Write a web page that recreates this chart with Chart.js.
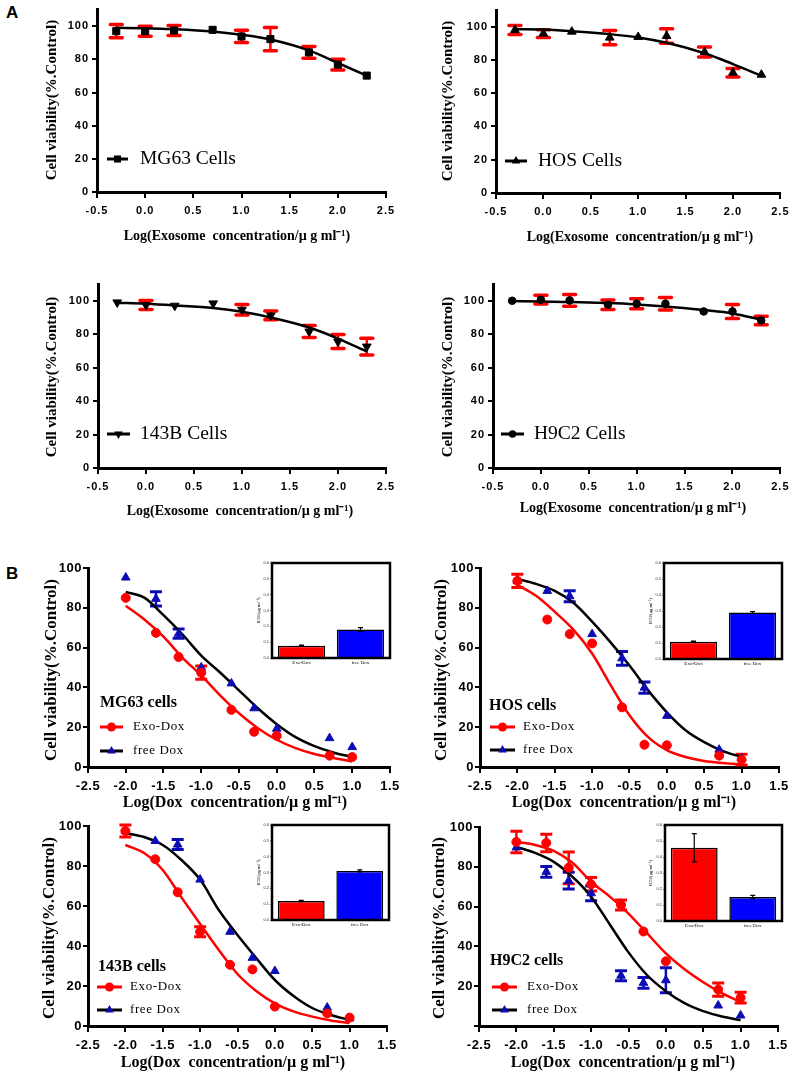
<!DOCTYPE html>
<html><head><meta charset="utf-8">
<script src="https://cdn.jsdelivr.net/npm/chart.js@4.4.1/dist/chart.umd.min.js"></script>
<style>
body{margin:0;background:#fff;width:794px;height:1075px;position:relative;overflow:hidden;}
canvas{position:absolute;}
.lbl{position:absolute;font:bold 17px "Liberation Sans",Arial,sans-serif;line-height:20px;}
</style></head><body>
<div class="lbl" style="left:6px;top:3px">A</div>
<div class="lbl" style="left:6px;top:564px">B</div>
<script>
// ---------------- DATA ----------------
// Panel A: exosome alone
const exoConc = [-0.3, 0, 0.3, 0.7, 1.0, 1.3, 1.7, 2.0, 2.3];
const mg63Exo    = [97, 97, 97.4, 97.8, 93.8, 92.2, 84.2, 76.8, 70.2];
const mg63ExoErr = [4, 3, 3, 0, 3.7, 7, 3.5, 3.2, 0];
const mg63ExoFit = [99, 98.8, 98.2, 96.8, 94.8, 92, 85.4, 77.8, 70.2];
const hosExo     = [98, 95.8, 97, 93.4, 93.8, 94.4, 84.7, 72.3, 71.1];
const hosExoErr  = [2.7, 2.4, 0, 4.3, 0, 4.4, 3, 2.6, 0];
const hosExoFit  = [98.5, 98.3, 97.3, 95.5, 93.5, 90.3, 84, 77.5, 70.5];
const b143Exo    = [99, 97.4, 97, 98.4, 94.6, 91.2, 81.6, 75.6, 72.6];
const b143ExoErr = [0, 2.7, 0, 0, 3.1, 2.6, 3.6, 4.2, 5];
const b143ExoFit = [98.8, 98.2, 97.2, 95.6, 93.4, 90, 84, 77.4, 69.6];
const h9c2Exo    = [100, 100.6, 100.2, 97.6, 98.2, 98.2, 93.6, 93.6, 88.2];
const h9c2ExoErr = [0, 2.6, 3.5, 2.8, 3, 3.7, 0, 4.2, 2.5];
const h9c2ExoFit = [99.8, 99.6, 99.2, 98.6, 97.8, 96.6, 94.4, 92.4, 88.6];

// Panel B: Exo-Dox vs free Dox
const doxConc = [-2, -1.6, -1.3, -1.0, -0.6, -0.3, 0, 0.7, 1.0];
const fitConc = [-2, -1.75, -1.5, -1.25, -1, -0.75, -0.5, -0.25, 0, 0.25, 0.5, 0.75, 1];
const mg63ExoDox     = [85, 67.4, 55.3, 47.4, 28.7, 17.7, 15.7, 5.7, 5];
const mg63ExoDoxErr  = [0, 0, 0, 3.3, 0, 0, 0, 0, 0];
const mg63FreeDox    = [95.2, 84.5, 67, 50, 42, 29.5, 19.2, 14.5, 10];
const mg63FreeDoxErr = [0, 3.6, 2.3, 0, 0, 0, 0, 0, 0];
const mg63ExoDoxFit  = [81, 74, 65.5, 55, 46, 36, 27, 19.5, 13.7, 9.5, 6.5, 4.5, 2.8];
const mg63FreeDoxFit = [88, 85, 76.3, 66.7, 56, 47.5, 38.5, 29.5, 21.5, 15, 10.5, 7.3, 5];

const hosExoDox     = [93.5, 74.1, 66.8, 62.1, 30, 11.2, 10.9, 5.7, 3.7];
const hosExoDoxErr  = [3.3, 0, 0, 0, 0, 0, 0, 0, 2.7];
const hosFreeDox    = [93.5, 88.5, 85.8, 66.8, 54.6, 39.9, 25.7, 8.7, 4.5];
const hosFreeDoxErr = [0, 0, 2.8, 0, 3.5, 2.8, 0, 0, 0];
const hosExoDoxFit  = [91.5, 86, 78, 69, 57, 41, 26, 15, 8.5, 5, 3, 2, 1.3];
const hosFreeDoxFit = [94.5, 92, 88.5, 82.5, 73, 62.5, 51, 38.5, 27.5, 18.5, 12.5, 8, 5];

const b143ExoDox     = [97.5, 83.4, 66.9, 47.1, 30.6, 28.3, 9.7, 6.3, 4.2];
const b143ExoDoxErr  = [3, 0, 0, 2.5, 0, 0, 0, 0, 0];
const b143FreeDox    = [97.5, 92.5, 90.7, 73.2, 47.1, 34.1, 27.5, 9.2, 3.8];
const b143FreeDoxErr = [0, 0, 2.5, 0, 0, 0, 0, 0, 0];
const b143ExoDoxFit  = [90.5, 86.5, 78, 64.3, 51, 38, 26, 17.5, 11.3, 7.3, 4.7, 2.8, 1.5];
const b143FreeDoxFit = [96.5, 94.5, 90.5, 83, 73.2, 58, 45.5, 34, 23, 15, 9, 5.5, 3];

const h9c2ExoDox     = [92.5, 92, 79.5, 71.2, 60.8, 47.5, 32.5, 18.3, 14.2];
const h9c2ExoDoxErr  = [5.4, 4.4, 8, 3.4, 2.5, 0, 0, 3.3, 2.7];
const h9c2FreeDox    = [89.7, 77.5, 73, 66.7, 25.3, 21.7, 23, 10.3, 5.3];
const h9c2FreeDoxErr = [0, 2.7, 4.2, 3.7, 2.5, 2.7, 6.3, 0, 0];
const h9c2ExoDoxFit  = [92.5, 91, 88, 82, 72.5, 65, 56.5, 46.5, 36.5, 28.5, 22, 16.5, 12];
const h9c2FreeDoxFit = [90, 87, 82.5, 75, 65, 51, 37, 25.5, 17.5, 11.5, 7.5, 4.8, 3];

// IC50 insets
const ic50Cats = ['Exo-Dox', 'free Dox'];
const mg63IC50 = [0.077, 0.18];  const mg63IC50Err = [0.004, 0.012];
const hosIC50  = [0.108, 0.29];  const hosIC50Err  = [0.004, 0.006];
const b143IC50 = [0.12, 0.31];   const b143IC50Err = [0.004, 0.006];
const h9c2IC50 = [0.458, 0.15];  const h9c2IC50Err = [0.088, 0.01];

// ---------------- STYLE ----------------
const SANS = '"Liberation Sans", Arial, sans-serif';
const SERIF = '"Liberation Serif", "Times New Roman", serif';
const RED = '#ff0000', MBLUE = '#0c0cb4', BBLUE = '#0000ff';
const pts = (xs, ys) => xs.map((x, i) => ({x: x, y: ys[i]}));

function drawErr(chart, top) {
  const ctx = chart.ctx, xs = chart.scales.x, ys = chart.scales.y;
  chart.data.datasets.forEach(ds => {
    if (!ds.err || (!!ds.errOnTop) !== top) return;
    ctx.save();
    ctx.strokeStyle = ds.errColor; ctx.lineCap = ds.errCap || 'butt';
    ds.data.forEach((p, i) => {
      const e = ds.err[i]; if (!e) return;
      const xv = typeof p === 'number' ? i : p.x, yv = typeof p === 'number' ? p : p.y;
      const px = xs.getPixelForValue(xv), y1 = ys.getPixelForValue(yv + e), y2 = ys.getPixelForValue(yv - e);
      ctx.lineWidth = ds.errLW; ctx.beginPath(); ctx.moveTo(px, y1); ctx.lineTo(px, y2); ctx.stroke();
      ctx.lineWidth = ds.capLW; ctx.beginPath();
      ctx.moveTo(px - ds.capHalf, y1); ctx.lineTo(px + ds.capHalf, y1);
      ctx.moveTo(px - ds.capHalf, y2); ctx.lineTo(px + ds.capHalf, y2); ctx.stroke();
    });
    ctx.restore();
  });
}
const errPlugin = {
  id: 'errbars',
  beforeDatasetsDraw(chart) { drawErr(chart, false); },
  afterDatasetsDraw(chart) { drawErr(chart, true); }
};
function spacingPlugin(v) {
  return {id: 'spacing',
    beforeDraw(chart) { chart.ctx.letterSpacing = v; },
    beforeDatasetsDraw(chart) { chart.ctx.letterSpacing = '0px'; }};
}
function drawMarker(ctx, style, x, y, r, color, inv) {
  ctx.save(); ctx.fillStyle = color; ctx.beginPath();
  if (style === 'circle') ctx.arc(x, y, r, 0, Math.PI * 2);
  else if (style === 'rect') { const s = r * Math.SQRT1_2; ctx.rect(x - s, y - s, 2 * s, 2 * s); }
  else {
    const a0 = inv ? Math.PI : 0;
    for (let k = 0; k < 3; k++) {
      const a = a0 + k * 2 * Math.PI / 3, px = x + Math.sin(a) * r, py = y - Math.cos(a) * r;
      if (k) ctx.lineTo(px, py); else ctx.moveTo(px, py);
    }
    ctx.closePath();
  }
  ctx.fill(); ctx.restore();
}
function decorPlugin(cfg, ox, oy) {
  return {id: 'decor', afterDraw(chart) {
    const ctx = chart.ctx;
    ctx.save(); ctx.letterSpacing = '0px'; ctx.fillStyle = '#000'; ctx.textBaseline = 'middle';
    if (cfg.frame) {
      const a = chart.chartArea; ctx.strokeStyle = '#000'; ctx.lineWidth = cfg.frame;
      ctx.strokeRect(a.left, a.top, a.right - a.left, a.bottom - a.top);
    }
    if (cfg.yTitle) {
      const t = cfg.yTitle; ctx.save(); ctx.translate(t.x - ox, t.y - oy); ctx.rotate(-Math.PI / 2);
      ctx.font = t.font; ctx.textAlign = 'center'; ctx.fillText(t.text, 0, 0); ctx.restore();
    }
    if (cfg.xTitle) {
      const t = cfg.xTitle; ctx.font = t.font; ctx.textAlign = 'center'; ctx.fillText(t.text, t.x - ox, t.y - oy);
    }
    if (cfg.legendTitle) {
      const t = cfg.legendTitle; ctx.font = t.font; ctx.textAlign = 'left'; ctx.fillText(t.text, t.x - ox, t.y - oy);
    }
    (cfg.legend || []).forEach(it => {
      ctx.strokeStyle = it.lineColor; ctx.lineWidth = it.lw;
      ctx.beginPath(); ctx.moveTo(it.x1 - ox, it.y - oy); ctx.lineTo(it.x2 - ox, it.y - oy); ctx.stroke();
      drawMarker(ctx, it.marker, (it.x1 + it.x2) / 2 - ox, it.y - oy, it.r, it.mColor, it.inv);
      ctx.fillStyle = '#000'; ctx.font = it.font; ctx.textAlign = 'left';
      if (it.ls) ctx.letterSpacing = it.ls;
      ctx.fillText(it.text, it.tx - ox, it.y - oy);
      ctx.letterSpacing = '0px';
    });
    ctx.restore();
  }};
}
function place(cx, cy, cw, ch) {
  const c = document.createElement('canvas');
  c.width = cw; c.height = ch;
  c.style.left = cx + 'px'; c.style.top = cy + 'px';
  c.style.width = cw + 'px'; c.style.height = ch + 'px';
  document.body.appendChild(c); return c;
}

function mainChart(p) {
  const c = place(p.cx, p.cy, p.cw, p.ch);
  const B = p.big;
  const tickFont = {family: SANS, weight: 'bold', size: B ? 13 : 11};
  new Chart(c, {
    type: 'line',
    data: {datasets: p.datasets},
    options: {
      responsive: false, animation: false, devicePixelRatio: 1,
      layout: {padding: {top: p.T - p.cy, right: p.cx + p.cw - p.R, left: 0, bottom: 0}},
      plugins: {legend: {display: false}, tooltip: {enabled: false}},
      scales: {
        x: {
          type: 'linear', min: p.xmin, max: p.xmax,
          afterFit: s => { s.height = p.cy + p.ch - p.B; },
          ticks: {stepSize: 0.5, autoSkip: false, maxRotation: 0, color: '#000', font: tickFont, padding: 6,
                  callback: v => Number(v).toFixed(1)},
          grid: {display: true, drawOnChartArea: false, drawTicks: true, tickLength: 6, color: '#000', lineWidth: 2},
          border: {display: true, color: '#000', width: 3}
        },
        y: {
          type: 'linear', min: 0, max: p.ymax,
          afterFit: s => { s.width = p.L - p.cx; },
          afterBuildTicks: s => { s.ticks = s.ticks.filter(t => Math.abs(t.value % 20) < 1e-6); },
          ticks: {stepSize: 20, color: '#000', font: tickFont, padding: B ? 1 : 3,
                  callback: v => (p.hideZero && v === 0) ? '' : v},
          grid: {display: true, drawOnChartArea: false, drawTicks: true, tickLength: 5, color: '#000', lineWidth: 2},
          border: {display: true, color: '#000', width: 3}
        }
      }
    },
    plugins: [errPlugin, spacingPlugin(B ? '0.5px' : '1px'), decorPlugin(p.decor, p.cx, p.cy)]
  });
}

function insetChart(p) {
  const c = place(p.cx, p.cy, p.cw, p.ch);
  new Chart(c, {
    type: 'bar',
    data: {labels: ic50Cats, datasets: [{
      data: p.values, err: p.errs, errOnTop: true, errColor: '#000', errLW: 1.2, capLW: 1.2, capHalf: 2.5,
      backgroundColor: [RED, BBLUE], borderColor: '#000', borderWidth: 1.5,
      categoryPercentage: 1, barPercentage: 0.8
    }]},
    options: {
      responsive: false, animation: false, devicePixelRatio: 1,
      layout: {padding: {top: p.T - p.cy, right: p.cx + p.cw - p.R, left: 0, bottom: 0}},
      plugins: {legend: {display: false}, tooltip: {enabled: false}},
      scales: {
        x: {afterFit: s => { s.height = p.cy + p.ch - p.B; },
            ticks: {color: '#000', font: {family: SERIF, size: 5}, padding: 2},
            grid: {display: false, drawTicks: false}, border: {display: false}},
        y: {min: 0, max: 0.6, afterFit: s => { s.width = p.L - p.cx; },
            ticks: {stepSize: 0.1, color: '#333', font: {family: SANS, size: 4}, padding: 1,
                    callback: v => Number(v).toFixed(1)},
            grid: {display: true, drawOnChartArea: false, tickLength: 2, color: '#333', lineWidth: 0.6},
            border: {display: false}}
      }
    },
    plugins: [errPlugin, decorPlugin({frame: 2.5,
      yTitle: {text: 'IC50(\u00b5g ml\u207b\u00b9)', x: p.tx, y: (p.T + p.B) / 2, font: '4.5px ' + SERIF}}, p.cx, p.cy)]
  });
}

// ---------------- PANEL A ----------------
const yTitleText = 'Cell viability(%.Control)';
const exoTitle = 'Log(Exosome  concentration/\u00b5 g ml\u207b\u00b9)';
const doxTitle = 'Log(Dox  concentration/\u00b5 g ml\u207b\u00b9)';
const fA = 'bold 15px ' + SERIF, fAx = 'bold 14px ' + SERIF, fLeg = '19.5px ' + SERIF;

function aSets(vals, errs, fit, style, r, inv) {
  return [
    {data: pts(exoConc, vals), err: errs, errColor: RED, errLW: 2.5, capLW: 3.5, capHalf: 6, errCap: 'round',
     showLine: false, pointStyle: style, pointRadius: r, pointRotation: inv ? 180 : 0,
     pointBackgroundColor: '#000', pointBorderColor: '#000', pointBorderWidth: 1, clip: false},
    {data: pts(exoConc, fit), borderColor: '#000', borderWidth: 2.5, pointRadius: 0,
     cubicInterpolationMode: 'monotone', fill: false, clip: false}
  ];
}
function aLegend(text, x1, x2, y, tx, style, r, inv) {
  return [{x1: x1, x2: x2, y: y, tx: tx, text: text, lineColor: '#000', lw: 3, marker: style, r: r, inv: inv,
           mColor: '#000', font: fLeg}];
}

mainChart({cx: 0, cy: 0, cw: 400, ch: 250, L: 97, R: 386, T: 9, B: 192, xmin: -0.5, xmax: 2.5, ymax: 110,
  datasets: aSets(mg63Exo, mg63ExoErr, mg63ExoFit, 'rect', 5),
  decor: {yTitle: {text: yTitleText, x: 52, y: 100, font: fA}, xTitle: {text: exoTitle, x: 237, y: 236, font: fAx},
          legend: aLegend('MG63 Cells', 107, 128, 159, 140, 'rect', 5)}});
mainChart({cx: 400, cy: 0, cw: 394, ch: 250, L: 496, R: 783, T: 10, B: 193, xmin: -0.5, xmax: 2.5, ymax: 110,
  datasets: aSets(hosExo, hosExoErr, hosExoFit, 'triangle', 5),
  decor: {yTitle: {text: yTitleText, x: 448, y: 101, font: fA}, xTitle: {text: exoTitle, x: 640, y: 237, font: fAx},
          legend: aLegend('HOS Cells', 505, 527, 161, 538, 'triangle', 5)}});
mainChart({cx: 0, cy: 255, cw: 400, ch: 270, L: 98, R: 386, T: 284, B: 468, xmin: -0.5, xmax: 2.5, ymax: 110,
  datasets: aSets(b143Exo, b143ExoErr, b143ExoFit, 'triangle', 5, true),
  decor: {yTitle: {text: yTitleText, x: 52, y: 377, font: fA}, xTitle: {text: exoTitle, x: 240, y: 511, font: fAx},
          legend: aLegend('143B Cells', 107, 130, 434, 140, 'triangle', 5, true)}});
mainChart({cx: 400, cy: 255, cw: 394, ch: 270, L: 493, R: 781, T: 284, B: 468, xmin: -0.5, xmax: 2.5, ymax: 110,
  datasets: aSets(h9c2Exo, h9c2ExoErr, h9c2ExoFit, 'circle', 3.8),
  decor: {yTitle: {text: yTitleText, x: 448, y: 377, font: fA}, xTitle: {text: exoTitle, x: 633, y: 508, font: fAx},
          legend: aLegend('H9C2 Cells', 501, 524, 434, 534, 'circle', 3.8)}});

// ---------------- PANEL B ----------------
const fB = 'bold 17px ' + SERIF, fBx = 'bold 16px ' + SERIF, fBt = 'bold 16px ' + SERIF, fBl = '13px ' + SERIF;
function bSets(exo, exoErr, free, freeErr, exoFit, freeFit) {
  return [
    {data: pts(doxConc, exo), err: exoErr, errColor: RED, errLW: 2.5, capLW: 3, capHalf: 6,
     showLine: false, pointStyle: 'circle', pointRadius: 4.5, pointBackgroundColor: RED, pointBorderColor: RED, clip: false},
    {data: pts(doxConc, free), err: freeErr, errColor: MBLUE, errLW: 2.5, capLW: 3, capHalf: 6,
     showLine: false, pointStyle: 'triangle', pointRadius: 5, pointBackgroundColor: MBLUE, pointBorderColor: MBLUE, clip: false},
    {data: pts(fitConc, exoFit), borderColor: RED, borderWidth: 2.5, pointRadius: 0, cubicInterpolationMode: 'monotone', fill: false, clip: false},
    {data: pts(fitConc, freeFit), borderColor: '#000', borderWidth: 2.5, pointRadius: 0, cubicInterpolationMode: 'monotone', fill: false, clip: false}
  ];
}
function bLegend(title, tx0, ty, y1, y2, x1, x2, tx) {
  return {
    legendTitle: {text: title, x: tx0, y: ty, font: fBt},
    legend: [
      {x1: x1, x2: x2, y: y1, tx: tx, text: 'Exo-Dox', lineColor: RED, lw: 3, marker: 'circle', r: 4.5, mColor: RED, font: fBl, ls: '0.6px'},
      {x1: x1, x2: x2, y: y2, tx: tx, text: 'free Dox', lineColor: '#000', lw: 3, marker: 'triangle', r: 5, mColor: MBLUE, font: fBl, ls: '0.6px'}
    ]};
}

mainChart({big: true, cx: 0, cy: 554, cw: 405, ch: 262, L: 88, R: 390, T: 568, B: 767, xmin: -2.5, xmax: 1.5, ymax: 100,
  datasets: bSets(mg63ExoDox, mg63ExoDoxErr, mg63FreeDox, mg63FreeDoxErr, mg63ExoDoxFit, mg63FreeDoxFit),
  decor: Object.assign({yTitle: {text: yTitleText, x: 52, y: 670, font: fB}, xTitle: {text: doxTitle, x: 235, y: 803, font: fBx}},
    bLegend('MG63 cells', 100, 703, 727, 751, 100, 123, 133))});
mainChart({big: true, cx: 400, cy: 554, cw: 394, ch: 262, L: 480, R: 780, T: 568, B: 767, xmin: -2.5, xmax: 1.5, ymax: 100,
  datasets: bSets(hosExoDox, hosExoDoxErr, hosFreeDox, hosFreeDoxErr, hosExoDoxFit, hosFreeDoxFit),
  decor: Object.assign({yTitle: {text: yTitleText, x: 442, y: 670, font: fB}, xTitle: {text: doxTitle, x: 624, y: 803, font: fBx}},
    bLegend('HOS cells', 489, 706, 727, 750, 490, 515, 523))});
mainChart({big: true, cx: 0, cy: 813, cw: 405, ch: 262, L: 88, R: 387, T: 826, B: 1026, xmin: -2.5, xmax: 1.5, ymax: 100,
  datasets: bSets(b143ExoDox, b143ExoDoxErr, b143FreeDox, b143FreeDoxErr, b143ExoDoxFit, b143FreeDoxFit),
  decor: Object.assign({yTitle: {text: yTitleText, x: 50, y: 928, font: fB}, xTitle: {text: doxTitle, x: 233, y: 1063, font: fBx}},
    bLegend('143B cells', 98, 967, 987, 1010, 97, 122, 130))});
mainChart({big: true, hideZero: true, cx: 400, cy: 813, cw: 394, ch: 262, L: 479, R: 778, T: 827, B: 1026, xmin: -2.5, xmax: 1.5, ymax: 100,
  datasets: bSets(h9c2ExoDox, h9c2ExoDoxErr, h9c2FreeDox, h9c2FreeDoxErr, h9c2ExoDoxFit, h9c2FreeDoxFit),
  decor: Object.assign({yTitle: {text: yTitleText, x: 440, y: 928, font: fB}, xTitle: {text: doxTitle, x: 623, y: 1063, font: fBx}},
    bLegend('H9C2 cells', 490, 961, 987, 1010, 492, 517, 527))});

// ---------------- INSETS ----------------
insetChart({cx: 250, cy: 556, cw: 146, ch: 114, L: 272, R: 390, T: 563, B: 658, tx: 259, values: mg63IC50, errs: mg63IC50Err});
insetChart({cx: 642, cy: 556, cw: 148, ch: 114, L: 664, R: 782, T: 563, B: 659, tx: 651, values: hosIC50, errs: hosIC50Err});
insetChart({cx: 250, cy: 818, cw: 146, ch: 114, L: 272, R: 389, T: 825, B: 920, tx: 259, values: b143IC50, errs: b143IC50Err});
insetChart({cx: 643, cy: 818, cw: 148, ch: 114, L: 665, R: 782, T: 825, B: 921, tx: 651, values: h9c2IC50, errs: h9c2IC50Err});
</script>
</body></html>
